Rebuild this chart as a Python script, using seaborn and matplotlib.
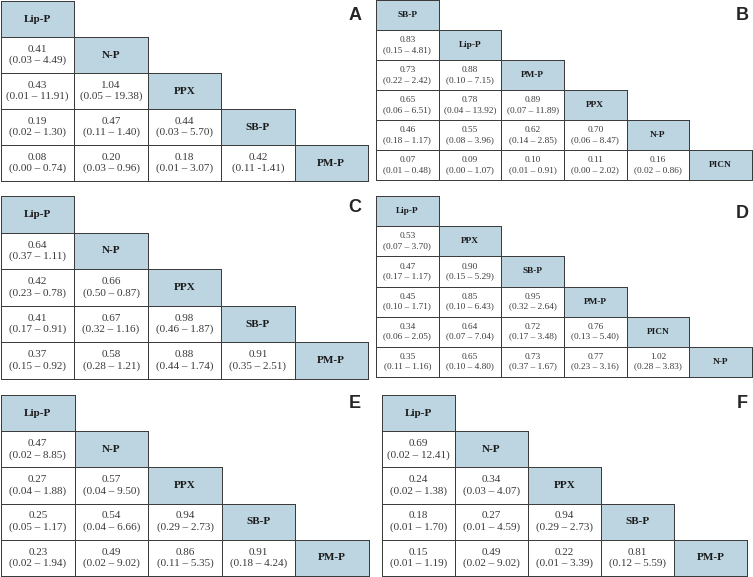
import numpy as np
import matplotlib
matplotlib.use('Agg')
import matplotlib.pyplot as plt
import seaborn as sns
from matplotlib.colors import ListedColormap, to_rgba

sns.set_style('white')
plt.rcParams['font.family'] = ['Liberation Serif', 'DejaVu Serif']

# league tables: treatment names (diagonal) and lower triangle estimates with 95% CI
names_A = ['Lip-P', 'N-P', 'PPX', 'SB-P', 'PM-P']
est_A = [[0.41], [0.43, 1.04], [0.19, 0.47, 0.44], [0.08, 0.20, 0.18, 0.42]]
lo_A = [[0.03], [0.01, 0.05], [0.02, 0.11, 0.03], [0.00, 0.03, 0.01, 0.11]]
hi_A = [[4.49], [11.91, 19.38], [1.30, 1.40, 5.70], [0.74, 0.96, 3.07, 1.41]]

names_B = ['SB-P', 'Lip-P', 'PM-P', 'PPX', 'N-P', 'PICN']
est_B = [[0.83], [0.73, 0.88], [0.65, 0.78, 0.89], [0.46, 0.55, 0.62, 0.70],
         [0.07, 0.09, 0.10, 0.11, 0.16]]
lo_B = [[0.15], [0.22, 0.10], [0.06, 0.04, 0.07], [0.18, 0.08, 0.14, 0.06],
        [0.01, 0.00, 0.01, 0.00, 0.02]]
hi_B = [[4.81], [2.42, 7.15], [6.51, 13.92, 11.89], [1.17, 3.96, 2.85, 8.47],
        [0.48, 1.07, 0.91, 2.02, 0.86]]

names_C = ['Lip-P', 'N-P', 'PPX', 'SB-P', 'PM-P']
est_C = [[0.64], [0.42, 0.66], [0.41, 0.67, 0.98], [0.37, 0.58, 0.88, 0.91]]
lo_C = [[0.37], [0.23, 0.50], [0.17, 0.32, 0.46], [0.15, 0.28, 0.44, 0.35]]
hi_C = [[1.11], [0.78, 0.87], [0.91, 1.16, 1.87], [0.92, 1.21, 1.74, 2.51]]

names_D = ['Lip-P', 'PPX', 'SB-P', 'PM-P', 'PICN', 'N-P']
est_D = [[0.53], [0.47, 0.90], [0.45, 0.85, 0.95], [0.34, 0.64, 0.72, 0.76],
         [0.35, 0.65, 0.73, 0.77, 1.02]]
lo_D = [[0.07], [0.17, 0.15], [0.10, 0.10, 0.32], [0.06, 0.07, 0.17, 0.13],
        [0.11, 0.10, 0.37, 0.23, 0.28]]
hi_D = [[3.70], [1.17, 5.29], [1.71, 6.43, 2.64], [2.05, 7.04, 3.48, 5.40],
        [1.16, 4.80, 1.67, 3.16, 3.83]]

names_E = ['Lip-P', 'N-P', 'PPX', 'SB-P', 'PM-P']
est_E = [[0.47], [0.27, 0.57], [0.25, 0.54, 0.94], [0.23, 0.49, 0.86, 0.91]]
lo_E = [[0.02], [0.04, 0.04], [0.05, 0.04, 0.29], [0.02, 0.02, 0.11, 0.18]]
hi_E = [[8.85], [1.88, 9.50], [1.17, 6.66, 2.73], [1.94, 9.02, 5.35, 4.24]]

names_F = ['Lip-P', 'N-P', 'PPX', 'SB-P', 'PM-P']
est_F = [[0.69], [0.24, 0.34], [0.18, 0.27, 0.94], [0.15, 0.49, 0.22, 0.81]]
lo_F = [[0.02], [0.02, 0.03], [0.01, 0.01, 0.29], [0.01, 0.02, 0.01, 0.12]]
hi_F = [[12.41], [1.38, 4.07], [1.70, 4.59, 2.73], [1.19, 9.02, 3.39, 5.59]]

panels = {
    'A': (names_A, est_A, lo_A, hi_A),
    'B': (names_B, est_B, lo_B, hi_B),
    'C': (names_C, est_C, lo_C, hi_C),
    'D': (names_D, est_D, lo_D, hi_D),
    'E': (names_E, est_E, lo_E, hi_E),
    'F': (names_F, est_F, lo_F, hi_F),
}

# pixel boxes (x0, y0, x1, y1), label position, font size
boxes = {
    'A': ((1, 1, 368, 181), (355, 15), 8),
    'B': ((376, 0, 752, 180), (742, 15), 6.7),
    'C': ((1, 196, 368, 379), (355, 207), 8),
    'D': ((376, 196, 752, 377), (742, 213), 6.7),
    'E': ((1, 395, 369, 576), (355, 403), 8),
    'F': ((382, 395, 747, 576), (742, 403), 8),
}

W, H = 753, 577
fig = plt.figure(figsize=(W / 100, H / 100), dpi=100)
header_col = '#bdd5e1'
line_col = '#3c3c3c'
cmap = ListedColormap(['white', header_col])

for key, (names, est, lo, hi) in panels.items():
    (x0, y0, x1, y1), (lx, ly), fs = boxes[key]
    n = len(names)
    ax = fig.add_axes([x0 / W, 1 - y1 / H, (x1 - x0) / W, (y1 - y0) / H])

    # matrix: 1 on diagonal (header), 0 below
    mat = np.zeros((n, n))
    np.fill_diagonal(mat, 1)
    labels = np.full((n, n), '', dtype=object)
    for i in range(n):
        labels[i, i] = names[i]
    for i in range(1, n):
        for j in range(i):
            sep = ' -' if (key == 'A' and i == 4 and j == 3) else ' \u2013 '
            labels[i, j] = '%.2f\n(%.2f%s%.2f)' % (est[i - 1][j], lo[i - 1][j], sep, hi[i - 1][j])
    mask = np.triu(np.ones((n, n), dtype=bool), k=1)

    sns.heatmap(mat, mask=mask, cmap=cmap, vmin=0, vmax=1, cbar=False,
                annot=labels, fmt='', linewidths=0.6, linecolor=line_col,
                annot_kws={'fontsize': fs, 'color': '#3a3a3a', 'linespacing': 1.25},
                xticklabels=False, yticklabels=False, ax=ax)
    mesh = ax.collections[0]
    # no borders on the empty upper triangle
    edge = [to_rgba(line_col) if not m else (0, 0, 0, 0) for m in mask.ravel()]
    mesh.set_edgecolor(edge)
    mesh.set_clip_on(False)
    for t in ax.texts:
        if t.get_text() in names:
            t.set_fontweight('bold')
            t.set_color('#1a1a1a')
    ax.axis('off')

    fig.text(lx / W, 1 - ly / H, key, fontsize=13, fontweight='bold',
             family='Liberation Sans', ha='center', va='center')

fig.savefig('out.png', dpi=100)
